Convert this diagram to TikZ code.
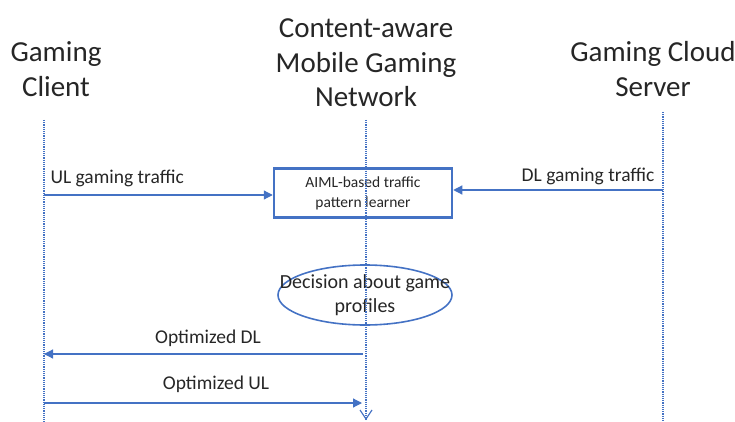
\documentclass[tikz,border=0pt]{standalone}
\usepackage{fontspec}
\setmainfont{Carlito}
\usetikzlibrary{arrows.meta,shapes.geometric}
\definecolor{ofblue}{HTML}{4472C4}
\begin{document}
\begin{tikzpicture}[x=1pt,y=-1pt,
  title/.style={font=\fontsize{29}{34.5}\selectfont, align=center, text=black!85},
  lbl/.style={font=\fontsize{19.5}{23}\selectfont, text=black!85},
  life/.style={ofblue, densely dotted, line width=1.2pt},
  msg/.style={ofblue, line width=1.2pt, -{Triangle[length=9pt,width=9pt]}},
  learner/.style={draw=ofblue, line width=2.5pt, minimum width=178pt, minimum height=49pt, align=center, font=\fontsize{15.5}{20}\selectfont, text=black!85},
  decision/.style={draw=ofblue, line width=1.6pt, ellipse, minimum width=174pt, minimum height=60pt, inner sep=0pt},
  dectext/.style={align=center, font=\fontsize{20}{24}\selectfont, text=black!85}]
\useasboundingbox (0,0) rectangle (735,422);
% titles
\node[title] (tc) at (56,69) {Gaming\\Client};
\node[title] (tn) at (366,63) {Content-aware\\Mobile Gaming\\Network};
\node[title] (ts) at (653,69) {Gaming Cloud\\Server};
% lifeline coordinates
\coordinate (c0) at (44,120); \coordinate (c1) at (44,422);
\coordinate (n0) at (366,120); \coordinate (n1) at (366,420);
\coordinate (s0) at (663,112); \coordinate (s1) at (663,422);
% learner box and decision ellipse
\node[learner] (box) at (363,193) {AIML-based traffic\\pattern learner};
\node[decision] (dec) at (365,295) {};
\node[dectext] (dect) at (dec.center) {Decision about game\\profiles};
% lifelines
\draw[life] (c0) -- (c1);
\draw[life] (s0) -- (s1);
\draw[life] (n0) -- (n1);
\draw[ofblue, line width=1.2pt] (360,410) -- (366,419) -- (372,410);
% messages
\coordinate (ula) at (44,195);
\draw[msg] (ula) -- (box.west |- ula);
\node[lbl, anchor=west] (ull) at (47,178) {UL gaming traffic};
\coordinate (dla) at (663,190);
\draw[msg] (dla) -- (box.east |- dla);
\node[lbl, anchor=east] (dll) at (658,176) {DL gaming traffic};
\coordinate (odl0) at (363,354); \coordinate (odl1) at (44,354);
\draw[msg] (odl0) -- (odl1);
\node[lbl] (odll) at (208,338) {Optimized DL};
\coordinate (oul0) at (44,403); \coordinate (oul1) at (362,403);
\draw[msg] (oul0) -- (oul1);
\node[lbl] (oull) at (216,384) {Optimized UL};
\end{tikzpicture}
\end{document}
